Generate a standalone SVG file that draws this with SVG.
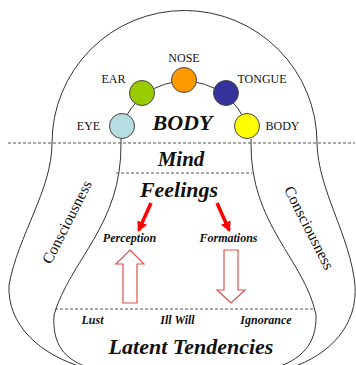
<svg xmlns="http://www.w3.org/2000/svg" width="356" height="365" viewBox="0 0 356 365">
<style>
.ln{fill:none;stroke:#333;stroke-width:1}
.dash{fill:none;stroke:#555;stroke-width:1;stroke-dasharray:3,2}
.lbl{font-family:"Liberation Serif","Times New Roman",serif;font-size:12px;fill:#111;text-anchor:middle}
.big{font-family:"Liberation Serif","Times New Roman",serif;font-weight:bold;font-style:italic;fill:#111;text-anchor:middle}
.sm{font-family:"Liberation Serif","Times New Roman",serif;font-weight:bold;font-style:italic;font-size:12px;fill:#111;text-anchor:middle}
.con{font-family:"Liberation Serif","Times New Roman",serif;font-size:15.5px;fill:#111;text-anchor:middle}
.sense{stroke:#444;stroke-width:1}
.hollow{fill:#fff;stroke:#e05050;stroke-width:1.2}
.red{stroke:#ff0000;stroke-width:3.5;fill:none}
</style>
<defs>
<marker id="ah" viewBox="0 0 10 10" refX="8" refY="5" markerWidth="3" markerHeight="3" orient="auto" markerUnits="strokeWidth">
<path d="M0,0 L10,5 L0,10 z" fill="#ff0000"/>
</marker>
</defs>
<rect width="356" height="365" fill="#fff"/>
<g id="outline">
<path class="ln" d="M52,143 A132.5,132.5 0 0 1 317,143"/>
<path class="ln" d="M52,143 C52,190 18,235 9,285 C7,325 40,355 85,368"/>
<path class="ln" d="M317,143 C318,190 350,235 355,285 C358,325 330,355 290,368"/>
<path class="ln" d="M121,139 L121,143 C122,225 70,260 54,315 C52,345 65,360 90,368"/>
<path class="ln" d="M251,139 L251,143 C250,225 305,260 316,315 C317,345 300,360 275,368"/>
<path class="ln" d="M122,126 A66,66 0 0 1 247,126"/>
</g>
<g id="dividers">
<line class="dash" x1="8" y1="143" x2="355" y2="143"/>
<line class="dash" x1="116" y1="173" x2="252" y2="173"/>
<line class="dash" x1="55" y1="309" x2="315" y2="309"/>
</g>
<g id="eye"><circle class="sense" cx="122" cy="126" r="12.5" fill="#b5dde2"/><text class="lbl" x="88.5" y="130">EYE</text></g>
<g id="ear"><circle class="sense" cx="142" cy="93" r="12.5" fill="#99cc00"/><text class="lbl" x="113.5" y="83">EAR</text></g>
<g id="nose"><circle class="sense" cx="184" cy="80" r="12.5" fill="#ff9900"/><text class="lbl" x="184" y="62">NOSE</text></g>
<g id="tongue"><circle class="sense" cx="226" cy="93" r="12.5" fill="#333399"/><text class="lbl" x="262" y="83">TONGUE</text></g>
<g id="bodysense"><circle class="sense" cx="247" cy="126" r="12.5" fill="#ffff00"/><text class="lbl" x="282.5" y="130">BODY</text></g>
<g id="body"><text class="big" x="182.5" y="130" font-size="22">BODY</text></g>
<g id="mind"><text class="big" x="181" y="166" font-size="21">Mind</text></g>
<g id="feelings"><text class="big" x="179" y="197" font-size="22">Feelings</text></g>
<g id="perception"><text class="sm" x="129.5" y="242">Perception</text></g>
<g id="formations"><text class="sm" x="228.5" y="242" font-size="12.5">Formations</text></g>
<g id="lust"><text class="sm" x="92.5" y="324">Lust</text></g>
<g id="illwill"><text class="sm" x="177.5" y="324">Ill Will</text></g>
<g id="ignorance"><text class="sm" x="266" y="324">Ignorance</text></g>
<g id="latent"><text class="big" x="191" y="354" font-size="22">Latent Tendencies</text></g>
<g id="consciousness-left"><text class="con" transform="translate(67,222) rotate(-63)" x="0" y="5">Consciousness</text></g>
<g id="consciousness-right"><text class="con" transform="translate(309,228) rotate(63)" x="0" y="5">Consciousness</text></g>
<g id="connectors">
<line class="red" x1="151" y1="203" x2="138.8" y2="230.2" marker-end="url(#ah)"/>
<line class="red" x1="217" y1="203" x2="229.2" y2="230.2" marker-end="url(#ah)"/>
<path class="hollow" d="M130,250 L144,264 L137,264 L137,303 L123,303 L123,264 L116,264 Z"/>
<path class="hollow" d="M224,250 L238,250 L238,290 L245,290 L231,303 L217,290 L224,290 Z"/>
</g>
</svg>
